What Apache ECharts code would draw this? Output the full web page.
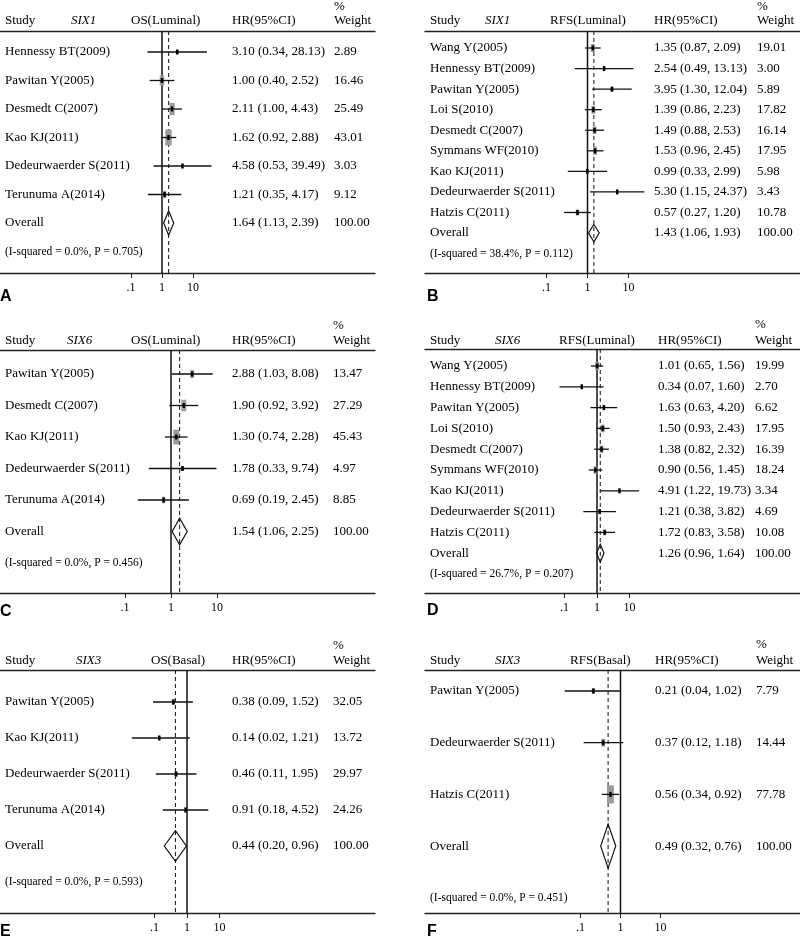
<!DOCTYPE html>
<html><head><meta charset="utf-8">
<script src="https://cdn.jsdelivr.net/npm/echarts@6/dist/echarts.min.js"></script>
<style>html,body{margin:0;padding:0;background:#fff}#c{width:800px;height:941px}</style>
</head><body><div id="c"></div>
<script>
// ---------------- DATA ----------------
const tickValues = [0.1, 1, 10];
const tickLabels = ['.1', '1', '10'];

const A_gene = 'SIX1', A_outcome = 'OS(Luminal)';
const A_studies = ['Hennessy BT(2009)', 'Pawitan Y(2005)', 'Desmedt C(2007)', 'Kao KJ(2011)', 'Dedeurwaerder S(2011)', 'Terunuma A(2014)'];
const A_hr = [3.10, 1.00, 2.11, 1.62, 4.58, 1.21];
const A_lo = [0.34, 0.40, 1.00, 0.92, 0.53, 0.35];
const A_hi = [28.13, 2.52, 4.43, 2.88, 39.49, 4.17];
const A_weight = [2.89, 16.46, 25.49, 43.01, 3.03, 9.12];
const A_overall = [1.64, 1.13, 2.39];
const A_isq = 0.0, A_p = 0.705;

const B_gene = 'SIX1', B_outcome = 'RFS(Luminal)';
const B_studies = ['Wang Y(2005)', 'Hennessy BT(2009)', 'Pawitan Y(2005)', 'Loi S(2010)', 'Desmedt C(2007)', 'Symmans WF(2010)', 'Kao KJ(2011)', 'Dedeurwaerder S(2011)', 'Hatzis C(2011)'];
const B_hr = [1.35, 2.54, 3.95, 1.39, 1.49, 1.53, 0.99, 5.30, 0.57];
const B_lo = [0.87, 0.49, 1.30, 0.86, 0.88, 0.96, 0.33, 1.15, 0.27];
const B_hi = [2.09, 13.13, 12.04, 2.23, 2.53, 2.45, 2.99, 24.37, 1.20];
const B_weight = [19.01, 3.00, 5.89, 17.82, 16.14, 17.95, 5.98, 3.43, 10.78];
const B_overall = [1.43, 1.06, 1.93];
const B_isq = 38.4, B_p = 0.112;

const C_gene = 'SIX6', C_outcome = 'OS(Luminal)';
const C_studies = ['Pawitan Y(2005)', 'Desmedt C(2007)', 'Kao KJ(2011)', 'Dedeurwaerder S(2011)', 'Terunuma A(2014)'];
const C_hr = [2.88, 1.90, 1.30, 1.78, 0.69];
const C_lo = [1.03, 0.92, 0.74, 0.33, 0.19];
const C_hi = [8.08, 3.92, 2.28, 9.74, 2.45];
const C_weight = [13.47, 27.29, 45.43, 4.97, 8.85];
const C_overall = [1.54, 1.06, 2.25];
const C_isq = 0.0, C_p = 0.456;

const D_gene = 'SIX6', D_outcome = 'RFS(Luminal)';
const D_studies = ['Wang Y(2005)', 'Hennessy BT(2009)', 'Pawitan Y(2005)', 'Loi S(2010)', 'Desmedt C(2007)', 'Symmans WF(2010)', 'Kao KJ(2011)', 'Dedeurwaerder S(2011)', 'Hatzis C(2011)'];
const D_hr = [1.01, 0.34, 1.63, 1.50, 1.38, 0.90, 4.91, 1.21, 1.72];
const D_lo = [0.65, 0.07, 0.63, 0.93, 0.82, 0.56, 1.22, 0.38, 0.83];
const D_hi = [1.56, 1.60, 4.20, 2.43, 2.32, 1.45, 19.73, 3.82, 3.58];
const D_weight = [19.99, 2.70, 6.62, 17.95, 16.39, 18.24, 3.34, 4.69, 10.08];
const D_overall = [1.26, 0.96, 1.64];
const D_isq = 26.7, D_p = 0.207;

const E_gene = 'SIX3', E_outcome = 'OS(Basal)';
const E_studies = ['Pawitan Y(2005)', 'Kao KJ(2011)', 'Dedeurwaerder S(2011)', 'Terunuma A(2014)'];
const E_hr = [0.38, 0.14, 0.46, 0.91];
const E_lo = [0.09, 0.02, 0.11, 0.18];
const E_hi = [1.52, 1.21, 1.95, 4.52];
const E_weight = [32.05, 13.72, 29.97, 24.26];
const E_overall = [0.44, 0.20, 0.96];
const E_isq = 0.0, E_p = 0.593;

const F_gene = 'SIX3', F_outcome = 'RFS(Basal)';
const F_studies = ['Pawitan Y(2005)', 'Dedeurwaerder S(2011)', 'Hatzis C(2011)'];
const F_hr = [0.21, 0.37, 0.56];
const F_lo = [0.04, 0.12, 0.34];
const F_hi = [1.02, 1.18, 0.92];
const F_weight = [7.79, 14.44, 77.78];
const F_overall = [0.49, 0.32, 0.76];
const F_isq = 0.0, F_p = 0.451;

const panels = [
  {letter:'A', gene:A_gene, outcome:A_outcome, studies:A_studies, hr:A_hr, lo:A_lo, hi:A_hi, w:A_weight, overall:A_overall, isq:A_isq, p:A_p},
  {letter:'B', gene:B_gene, outcome:B_outcome, studies:B_studies, hr:B_hr, lo:B_lo, hi:B_hi, w:B_weight, overall:B_overall, isq:B_isq, p:B_p},
  {letter:'C', gene:C_gene, outcome:C_outcome, studies:C_studies, hr:C_hr, lo:C_lo, hi:C_hi, w:C_weight, overall:C_overall, isq:C_isq, p:C_p},
  {letter:'D', gene:D_gene, outcome:D_outcome, studies:D_studies, hr:D_hr, lo:D_lo, hi:D_hi, w:D_weight, overall:D_overall, isq:D_isq, p:D_p},
  {letter:'E', gene:E_gene, outcome:E_outcome, studies:E_studies, hr:E_hr, lo:E_lo, hi:E_hi, w:E_weight, overall:E_overall, isq:E_isq, p:E_p},
  {letter:'F', gene:F_gene, outcome:F_outcome, studies:F_studies, hr:F_hr, lo:F_lo, hi:F_hi, w:F_weight, overall:F_overall, isq:F_isq, p:F_p}
];

// ---------------- LAYOUT (pixels) ----------------
const layout = [
  {x0:0,   x1:375, headerY:31,  axisY:273, oneX:162,   decade:31,   row0:52,  sp:28.5,  c:{study:5,  gene:71,  outcome:131, hr:232, wt:334}, pctY:7,   hdrY:21,  letterX:0,   letterY:297, boxK:2.45},
  {x0:425, x1:800, headerY:31,  axisY:273, oneX:587.5, decade:41,   row0:48,  sp:20.56, c:{study:430,gene:485, outcome:550, hr:654, wt:757}, pctY:7,   hdrY:21,  letterX:427, letterY:297, boxK:1.85},
  {x0:0,   x1:375, headerY:350, axisY:593, oneX:171,   decade:46,   row0:374, sp:31.5,  c:{study:5,  gene:67,  outcome:131, hr:232, wt:333}, pctY:326, hdrY:341, letterX:0,   letterY:612, boxK:2.2},
  {x0:425, x1:800, headerY:349, axisY:593, oneX:597,   decade:32.5, row0:366, sp:20.8,  c:{study:430,gene:495, outcome:559, hr:658, wt:755}, pctY:325, hdrY:341, letterX:427, letterY:611, boxK:1.8},
  {x0:0,   x1:375, headerY:670, axisY:913, oneX:187,   decade:32.5, row0:702, sp:36,    c:{study:5,  gene:76,  outcome:151, hr:232, wt:333}, pctY:646, hdrY:661, letterX:0,   letterY:932, boxK:1.0},
  {x0:425, x1:800, headerY:670, axisY:913, oneX:620.5, decade:40,   row0:691, sp:51.7,  c:{study:430,gene:495, outcome:570, hr:655, wt:756}, pctY:645, hdrY:661, letterX:427, letterY:932, boxK:2.05}
];

const SERIF = '"Liberation Serif", "Times New Roman", serif';
const TXT = '#000';

function txt(x, y, s, size, italic) {
  return {type:'text', x:x, y:y, silent:true,
    style:{text:s, fill:TXT, fontSize:size || 13, fontFamily:SERIF, fontStyle: italic ? 'italic' : 'normal', align:'left', verticalAlign:'middle'}};
}

const grids = [], xAxes = [], yAxes = [], series = [], graphics = [];
const logTicks = tickValues.map(v => Math.log10(v));

panels.forEach((P, i) => {
  const L = layout[i];
  const xmin = (L.x0 - L.oneX) / L.decade, xmax = (L.x1 - L.oneX) / L.decade;
  const ymin = (L.headerY - L.row0) / L.sp, ymax = (L.axisY - L.row0) / L.sp;
  grids.push({left:L.x0, top:L.headerY, width:L.x1 - L.x0, height:L.axisY - L.headerY});
  xAxes.push({type:'value', gridIndex:i, position:'bottom', min:xmin, max:xmax,
    axisLine:{show:true, onZero:false, lineStyle:{color:'#222', width:1.3}},
    axisTick:{show:true, customValues:logTicks, length:5, lineStyle:{color:'#222', width:1}},
    axisLabel:{show:true, customValues:logTicks, margin:9, color:TXT, fontSize:12, fontFamily:SERIF,
      formatter:(v) => { const k = logTicks.findIndex(t => Math.abs(t - v) < 1e-6); return k >= 0 ? tickLabels[k] : ''; }},
    splitLine:{show:false}});
  xAxes.push({type:'value', gridIndex:i, position:'top', min:xmin, max:xmax,
    axisLine:{show:true, onZero:false, lineStyle:{color:'#222', width:1.3}},
    axisTick:{show:false}, axisLabel:{show:false}, splitLine:{show:false}});
  yAxes.push({type:'value', gridIndex:i, inverse:true, min:ymin, max:ymax, show:false});

  const n = P.studies.length;
  const data = [];
  data.push([3, 0, 0, 0, 0, 0, -1]);                                   // null line at HR = 1
  data.push([4, 0, Math.log10(P.overall[0]), 0, 0, 0, -1]);            // dashed overall line
  for (let k = 0; k < n; k++) {
    data.push([0, k, Math.log10(P.hr[k]), Math.log10(P.lo[k]), Math.log10(P.hi[k]), P.w[k], k]);
  }
  data.push([1, n, Math.log10(P.overall[0]), Math.log10(P.overall[1]), Math.log10(P.overall[2]), 100, -1]);
  data.push([2, n + 1, 0, 0, 0, 0, -1]);

  series.push({
    type:'custom', xAxisIndex:2 * i, yAxisIndex:i, silent:true, clip:false, animation:false,
    data:data,
    renderItem:(params, api) => {
      const kind = api.value(0), row = api.value(1);
      const cs = params.coordSys;
      if (kind === 3 || kind === 4) {
        const x = api.coord([api.value(2), 0])[0];
        return {type:'line', shape:{x1:x, y1:cs.y, x2:x, y2:cs.y + cs.height},
          style: kind === 3 ? {stroke:'#111', lineWidth:1.5} : {stroke:'#111', lineWidth:1, lineDash:[4, 3]}};
      }
      const y = api.coord([0, row])[1];
      if (kind === 2) {
        return txt(L.c.study, y, '(I-squared = ' + P.isq.toFixed(1) + '%, P = ' + P.p.toFixed(3) + ')', 11.5);
      }
      const xc = api.coord([api.value(2), row])[0];
      const xl = api.coord([api.value(3), row])[0];
      const xh = api.coord([api.value(4), row])[0];
      const children = [];
      let name, hrTxt, wtTxt;
      if (kind === 0) {
        const k = api.value(6);
        const h = L.boxK * Math.sqrt(api.value(5));
        const bw = 0.3 * h + 1.5;
        children.push({type:'rect', shape:{x:xc - bw / 2, y:y - h / 2, width:bw, height:h}, style:{fill:'#9b9b9b'}});
        children.push({type:'line', shape:{x1:xl, y1:y, x2:xh, y2:y}, style:{stroke:'#111', lineWidth:1.3}});
        children.push({type:'rect', shape:{x:xc - 1.2, y:y - 2.5, width:2.4, height:5}, style:{fill:'#000'}});
        name = P.studies[k];
        hrTxt = P.hr[k].toFixed(2) + ' (' + P.lo[k].toFixed(2) + ', ' + P.hi[k].toFixed(2) + ')';
        wtTxt = P.w[k].toFixed(2);
      } else {
        const hh = Math.abs(api.size([0, 0.85])[1]) / 2;
        children.push({type:'polygon', shape:{points:[[xl, y], [xc, y - hh], [xh, y], [xc, y + hh]]},
          style:{fill:'none', stroke:'#111', lineWidth:1.2}});
        name = 'Overall';
        hrTxt = P.overall[0].toFixed(2) + ' (' + P.overall[1].toFixed(2) + ', ' + P.overall[2].toFixed(2) + ')';
        wtTxt = api.value(5).toFixed(2);
      }
      children.push(txt(L.c.study, y, name));
      children.push(txt(L.c.hr, y, hrTxt));
      children.push(txt(L.c.wt, y, wtTxt));
      return {type:'group', children:children};
    }
  });

  // header texts and panel letter
  graphics.push(txt(L.c.study, L.hdrY, 'Study'));
  graphics.push(txt(L.c.gene, L.hdrY, P.gene, 13, true));
  graphics.push(txt(L.c.outcome, L.hdrY, P.outcome));
  graphics.push(txt(L.c.hr, L.hdrY, 'HR(95%CI)'));
  graphics.push(txt(L.c.wt, L.pctY, '%'));
  graphics.push(txt(L.c.wt, L.hdrY, 'Weight'));
  graphics.push({type:'text', x:L.letterX, y:L.letterY, silent:true,
    style:{text:P.letter, fill:'#000', fontSize:16, fontWeight:'bold', fontFamily:'"Liberation Sans", Arial, sans-serif', align:'left', verticalAlign:'middle'}});
});

const chart = echarts.init(document.getElementById('c'), null, {renderer:'canvas'});
chart.setOption({
  backgroundColor:'#fff',
  animation:false,
  grid:grids, xAxis:xAxes, yAxis:yAxes, series:series,
  graphic:{elements:graphics}
});
</script>
</body></html>
